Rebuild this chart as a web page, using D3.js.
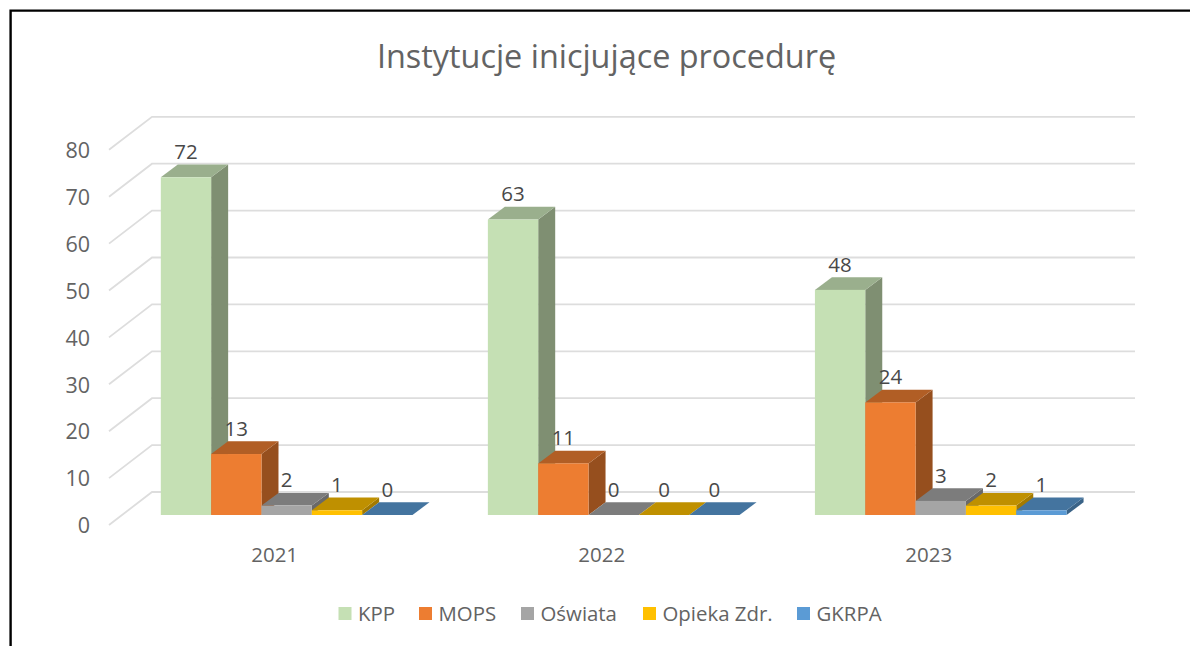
<!DOCTYPE html>
<html><head><meta charset="utf-8">
<script src="https://cdn.jsdelivr.net/npm/d3@7/dist/d3.min.js"></script>
<style>html,body{margin:0;padding:0;background:#fff}svg{display:block}</style>
</head><body><svg id="c" width="1190" height="646"></svg>
<script>
const categories = ["2021","2022","2023"];
const seriesNames = ["KPP","MOPS","Oświata","Opieka Zdr.","GKRPA"];
const kpp = [72,63,48];
const mops = [13,11,24];
const oswiata = [2,0,3];
const opieka = [1,0,2];
const gkrpa = [0,0,1];
const yTicks = [0,10,20,30,40,50,60,70,80];
const frontColors = ["#C5E0B4","#ED7D31","#A5A5A5","#FFC000","#5B9BD5"];
const topColors = ["#9AAF8D","#B15E25","#7C7C7C","#BF9000","#44749F"];
const sideColors = ["#7F8F72","#964F1E","#696969","#A37A00","#3A6387"];
const title = "Instytucje inicjujące procedurę";

const seriesValues = [kpp,mops,oswiata,opieka,gkrpa];
const font = "'Open Sans', sans-serif";
const svg = d3.select("#c");
const textCol = "#636363";

// frame
svg.append("path").attr("d","M10.6,646V10.6H1190").attr("fill","none").attr("stroke","#000").attr("stroke-width",2.4);

const y = d3.scaleLinear().domain([0,80]).range([515,139.8]);
const x0 = d3.scaleBand().domain(categories).range([123.2,1104.2]).paddingInner(0.2305).paddingOuter(0.115);
const x1 = d3.scaleBand().domain(seriesNames).range([0,x0.bandwidth()]);
const depthX = 17, depthY = 12.7;

// 3D wall gridlines
const grid = svg.append("g").attr("fill","none").attr("stroke","#DDDDDD").attr("stroke-width",1.8);
yTicks.forEach(t=>{
  const yb = y(t)-23, yf = y(t)+10;
  grid.append("path").attr("d",`M109,${yf}L152,${yb}H1135`);
});

// axis labels
svg.append("g").selectAll("text").data(yTicks).join("text")
  .attr("x",90).attr("y",d=>y(d)+18.2).attr("text-anchor","end")
  .attr("font-family",font).attr("font-size",21.5).attr("fill",textCol).text(d=>d);

svg.append("g").selectAll("text").data(categories).join("text")
  .attr("x",d=>x0(d)+x0.bandwidth()/2-12).attr("y",561.5).attr("text-anchor","middle")
  .attr("font-family",font).attr("font-size",20.5).attr("fill",textCol).text(d=>d);

// bars
categories.forEach((c,ci)=>{
  const g = svg.append("g");
  seriesNames.forEach((s,si)=>{
    const v = seriesValues[si][ci];
    const l = x0(c)+x1(s), r = l+x1.bandwidth(), t=y(v), b=y(0);
    g.append("path").attr("d",`M${r},${b}L${r+depthX},${b-depthY}V${t-depthY}L${r},${t}Z`).attr("fill",sideColors[si]);
    g.append("path").attr("d",`M${l},${t}L${l+depthX},${t-depthY}H${r+depthX}L${r},${t}Z`).attr("fill",topColors[si]);
    g.append("rect").attr("x",l).attr("y",t).attr("width",x1.bandwidth()).attr("height",b-t).attr("fill",frontColors[si]);
  });
  seriesNames.forEach((s,si)=>{
    const v = seriesValues[si][ci];
    g.append("text").attr("x",x0(c)+x1(s)+x1.bandwidth()/2).attr("y",y(v)-18.3)
      .attr("text-anchor","middle").attr("font-family",font).attr("font-size",20.5).attr("fill","#484848").text(v);
  });
});

// title
svg.append("text").attr("x",606.5).attr("y",67.5).attr("text-anchor","middle")
  .attr("font-family",font).attr("font-size",32.4).attr("fill",textCol).text(title);

// legend
const legendX = [338.5,419,521,643,797];
const lg = svg.append("g");
seriesNames.forEach((s,i)=>{
  lg.append("rect").attr("x",legendX[i]).attr("y",607).attr("width",13).attr("height",13).attr("fill",frontColors[i]);
  lg.append("text").attr("x",legendX[i]+19.5).attr("y",620.5).attr("font-family",font).attr("font-size",20.4).attr("fill",textCol).text(s);
});
</script></body></html>
